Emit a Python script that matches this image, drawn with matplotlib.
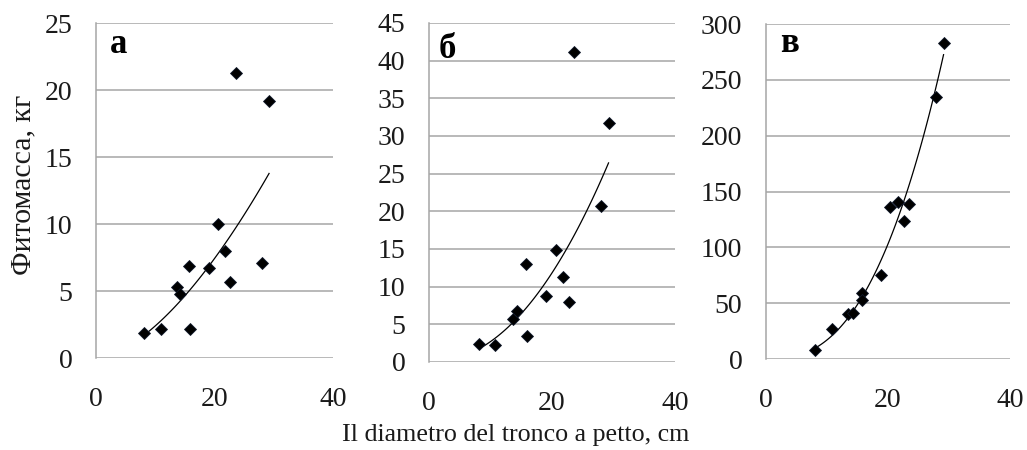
import numpy as np
import matplotlib
matplotlib.use("Agg")
import matplotlib.pyplot as plt

# diameter at breast height, cm (same trees in all panels)
dbh_a = [8.1, 10.9, 15.9, 13.6, 14.2, 15.7, 19.0, 20.5, 21.8, 22.6, 23.6, 28.0, 29.2]
mass_a = [1.9, 2.2, 2.2, 5.3, 4.8, 6.9, 6.7, 10.0, 8.0, 5.7, 21.3, 7.1, 19.2]

dbh_b = [8.2, 10.8, 15.9, 13.7, 14.3, 15.8, 19.1, 20.6, 21.8, 22.7, 23.6, 28.0, 29.2]
mass_b = [2.35, 2.2, 3.45, 5.7, 6.8, 13.0, 8.8, 14.9, 11.3, 7.9, 41.2, 20.75, 31.7]

dbh_c = [8.1, 10.8, 13.5, 14.2, 15.7, 15.8, 18.9, 20.4, 21.7, 22.6, 23.5, 27.8, 29.1]
mass_c = [8.1, 26.6, 40.3, 40.9, 59.4, 52.8, 75.2, 135.8, 140.9, 123.6, 138.8, 234.3, 282.7]

panels = [
    ("а", dbh_a, mass_a, 25, 5, [0.0935, 0.2044, 0.2308, 0.7444], (0.059, 0.91)),
    ("б", dbh_b, mass_b, 45, 5, [0.4177, 0.1956, 0.2395, 0.7533], (0.038, 0.896)),
    ("в", dbh_c, mass_c, 300, 50, [0.7459, 0.2022, 0.2376, 0.7444], (0.057, 0.917)),
]

plt.rcParams['font.family'] = ['Liberation Serif', 'DejaVu Serif']
grid_col = '#a6a6a6'
text_col = '#1a1a1a'

fig = plt.figure(figsize=(10.27, 4.5), dpi=100)

for letter, xs, ys, ymax, ystep, rect, lpos in panels:
    ax = fig.add_axes(rect)
    xs = np.array(xs)
    ys = np.array(ys)

    # power trend line, fitted the way a spreadsheet does (log-log)
    b, ln_a = np.polyfit(np.log(xs), np.log(ys), 1)
    xt = np.linspace(xs.min(), xs.max(), 100)
    ax.plot(xt, np.exp(ln_a) * xt ** b, color='black', lw=0.9, zorder=2)

    ax.plot(xs, ys, linestyle='none', marker='D', ms=6.6, color='black',
            markeredgecolor='#10182a', markeredgewidth=0.6, zorder=3)

    ax.set_xlim(0, 40)
    ax.set_ylim(0, ymax)
    ax.set_xticks([0, 20, 40])
    ax.set_yticks(np.arange(0, ymax + 1, ystep))
    ax.yaxis.grid(True, color=grid_col, lw=1.1)
    ax.set_axisbelow(True)
    for s in ['top', 'right', 'bottom']:
        ax.spines[s].set_visible(False)
    ax.spines['left'].set_color(grid_col)
    ax.spines['left'].set_linewidth(1.1)
    ax.tick_params(length=0, labelsize=20, colors=text_col)
    ax.tick_params(axis='y', pad=17)
    ax.tick_params(axis='x', pad=21)
    ax.text(lpos[0], lpos[1], letter, transform=ax.transAxes, fontsize=25,
            fontweight='bold', va='baseline', ha='left', color='black')

fig.text(0.0224, 0.589, "Фитомасса, кг", rotation=90, ha='center', va='center',
         fontsize=21.5, color=text_col)
fig.text(0.502, 0.033, "Il diametro del tronco a petto, cm", ha='center',
         va='center', fontsize=18.7, color=text_col)

fig.savefig("out.png", dpi=100)
